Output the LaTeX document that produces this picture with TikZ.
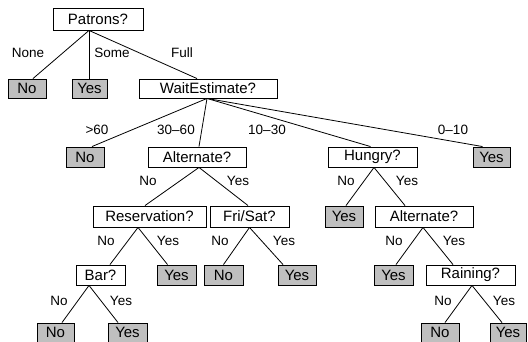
\documentclass[tikz,border=0pt]{standalone}
\usepackage{fontspec}
\setmainfont{Liberation Sans}
\begin{document}
\begin{tikzpicture}[x=1pt,y=-1pt,
  box/.style={draw=black,line width=0.9pt,fill=white,rectangle,inner sep=0pt,minimum height=20pt,font=\fontsize{15}{17}\selectfont},
  leaf/.style={box,fill=leafgray},
  lbl/.style={inner sep=0pt,font=\fontsize{13.5}{15}\selectfont},
  edge/.style={draw=black,line width=0.8pt}]
\definecolor{leafgray}{gray}{0.75}
\useasboundingbox (0,0) rectangle (528,342);
% level 0
\node[box,minimum width=90pt,minimum height=22pt] (patrons) at (98,19) {Patrons?};
% level 1
\node[leaf,minimum width=38pt,minimum height=19pt] (no1) at (27,88.5) {No};
\node[leaf,minimum width=35pt,minimum height=19pt] (yes1) at (89.5,88.5) {Yes};
\node[box,minimum width=138pt,minimum height=19pt] (wait) at (208,88.5) {WaitEstimate?};
% level 2
\node[leaf,minimum width=38pt] (no2) at (85,157) {No};
\node[box,minimum width=98pt] (alt1) at (197,157) {Alternate?};
\node[box,minimum width=89pt] (hungry) at (372.5,157) {Hungry?};
\node[leaf,minimum width=37pt] (yes2) at (491.5,157) {Yes};
% level 3
\node[box,minimum width=113pt,minimum height=21pt] (res) at (149.5,216.5) {Reservation?};
\node[box,minimum width=79pt,minimum height=21pt] (fri) at (249.5,216.5) {Fri/Sat?};
\node[leaf,minimum width=38pt,minimum height=21pt] (yes3) at (344,216.5) {Yes};
\node[box,minimum width=98pt,minimum height=21pt] (alt2) at (424,216.5) {Alternate?};
% level 4
\node[box,minimum width=49pt] (bar) at (100.5,275) {Bar?};
\node[leaf,minimum width=39pt] (yes4a) at (176.5,275) {Yes};
\node[leaf,minimum width=39pt] (no4) at (223.5,275) {No};
\node[leaf,minimum width=38pt] (yes4b) at (297,275) {Yes};
\node[leaf,minimum width=39pt] (yes4c) at (393.5,275) {Yes};
\node[box,minimum width=89pt] (rain) at (470.5,275) {Raining?};
% level 5
\node[leaf,minimum width=37pt,minimum height=19pt] (no5a) at (55.5,332.5) {No};
\node[leaf,minimum width=39pt,minimum height=19pt] (yes5a) at (127.5,332.5) {Yes};
\node[leaf,minimum width=38pt,minimum height=19pt] (no5b) at (440,332.5) {No};
\node[leaf,minimum width=36pt,minimum height=19pt] (yes5b) at (508,332.5) {Yes};
% edges
\draw[edge] ([xshift=-9pt]patrons.south) -- ([xshift=6pt]no1.north);
\draw[edge] ([xshift=-9pt]patrons.south) -- ([xshift=-0.5pt]yes1.north);
\draw[edge] ([xshift=-9pt]patrons.south) -- ([xshift=-11pt]wait.north);
\draw[edge] ([xshift=-1pt]wait.south) -- ([xshift=7pt]no2.north);
\draw[edge] ([xshift=-1pt]wait.south) -- ([xshift=2pt]alt1.north);
\draw[edge] ([xshift=-1pt]wait.south) -- ([xshift=-2pt]hungry.north);
\draw[edge] ([xshift=-1pt]wait.south) -- ([xshift=-9pt]yes2.north);
\draw[edge] ([xshift=2pt]alt1.south) -- ([xshift=-4.5pt]res.north);
\draw[edge] ([xshift=2pt]alt1.south) -- ([xshift=-1.5pt]fri.north);
\draw[edge] ([xshift=1.5pt]hungry.south) -- ([xshift=2pt]yes3.north);
\draw[edge] ([xshift=1.5pt]hungry.south) -- ([xshift=-19pt]alt2.north);
\draw[edge] ([xshift=-11.5pt]res.south) -- ([xshift=9.5pt]bar.north);
\draw[edge] ([xshift=-11.5pt]res.south) -- ([xshift=-9pt]yes4a.north);
\draw[edge] (fri.south) -- (no4.north);
\draw[edge] (fri.south) -- ([xshift=-14pt]yes4b.north);
\draw[edge] ([xshift=-1pt]alt2.south) -- ([xshift=2.5pt]yes4c.north);
\draw[edge] ([xshift=-1pt]alt2.south) -- ([xshift=-17.5pt]rain.north);
\draw[edge] ([xshift=-11.5pt]bar.south) -- ([xshift=6.5pt]no5a.north);
\draw[edge] ([xshift=-11.5pt]bar.south) -- ([xshift=-9.5pt]yes5a.north);
\draw[edge] ([xshift=1.5pt]rain.south) -- ([xshift=5pt]no5b.north);
\draw[edge] ([xshift=1.5pt]rain.south) -- ([xshift=-6pt]yes5b.north);
% labels
\node[lbl] (lnone) at (28,53) {None};
\node[lbl] (lsome) at (112,53) {Some};
\node[lbl] (lfull) at (182,53) {Full};
\node[lbl] (lgt60) at (97,130) {>60};
\node[lbl] (l3060) at (176,130) {30--60};
\node[lbl] (l1030) at (267,130) {10--30};
\node[lbl] (l010) at (453,130) {0--10};
\node[lbl] (la1no) at (148,181) {No};
\node[lbl] (la1yes) at (238,181) {Yes};
\node[lbl] (lhno) at (346,181) {No};
\node[lbl] (lhyes) at (407,181) {Yes};
\node[lbl] (lrno) at (106,241) {No};
\node[lbl] (lryes) at (168,241) {Yes};
\node[lbl] (lfno) at (220,241) {No};
\node[lbl] (lfyes) at (284,241) {Yes};
\node[lbl] (la2no) at (394,241) {No};
\node[lbl] (la2yes) at (454,241) {Yes};
\node[lbl] (lbno) at (59,301) {No};
\node[lbl] (lbyes) at (121,301) {Yes};
\node[lbl] (lrnno) at (443,301) {No};
\node[lbl] (lrnyes) at (504,301) {Yes};
\end{tikzpicture}
\end{document}
